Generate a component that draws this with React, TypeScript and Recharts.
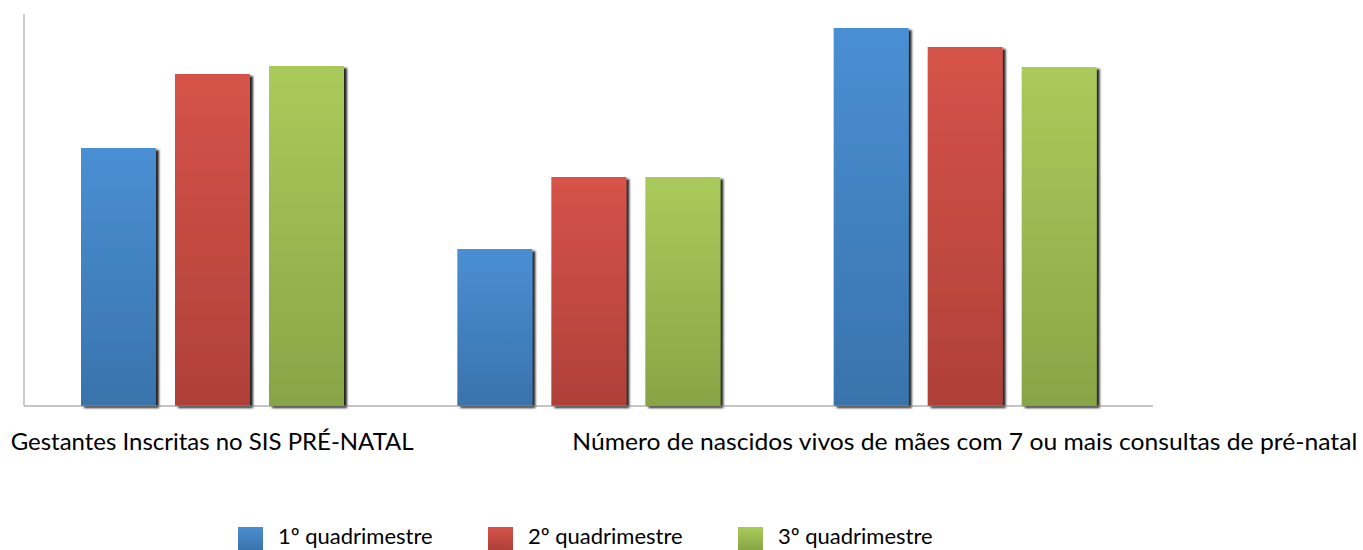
import React from "react";
import { BarChart, Bar, XAxis, YAxis } from "recharts";

const categories = [
  "Gestantes Inscritas no SIS PRÉ-NATAL",
  "",
  "Número de nascidos vivos de mães com 7 ou mais consultas de pré-natal",
];
const q1 = [258, 157, 378];
const q2 = [332, 229, 359];
const q3 = [340, 229, 339];
const seriesNames = ["1º quadrimestre", "2º quadrimestre", "3º quadrimestre"];
const labelWidths = [403, 0, 785];

const data = categories.map((c, i) => ({ name: c, q1: q1[i], q2: q2[i], q3: q3[i] }));

const gradients = [
  { id: "gBlue", top: "#4A8FD3", bottom: "#3973AC" },
  { id: "gRed", top: "#D6534A", bottom: "#AE4038" },
  { id: "gGreen", top: "#AACB5B", bottom: "#88A545" },
];

const BarShape = (props: any) => {
  const { x, y, width, height, fill } = props;
  if (!height || height <= 0) return null;
  return <rect x={x} y={y} width={width} height={height} fill={fill} filter="url(#shadow)" />;
};

const Tick = (props: any) => {
  const { x, y, payload, index } = props;
  const label = payload.value as string;
  if (!label) return null;
  const w = labelWidths[index] || undefined;
  return (
    <text
      x={x}
      y={y + 36}
      textAnchor="middle"
      fontFamily="Lato, 'Open Sans', sans-serif"
      fontSize={24}
      fill="#000"
      textLength={w}
      lengthAdjust="spacingAndGlyphs"
    >
      {label}
    </text>
  );
};

export default function App() {
  return (
    <div style={{ position: "absolute", left: 0, top: 0, width: 1363, height: 550, background: "#fff", overflow: "hidden" }}>
      <BarChart
        width={1363}
        height={550}
        data={data}
        margin={{ top: 14, right: 210, left: 23, bottom: 114 }}
        barSize={75}
        barGap={19}
      >
        <defs>
          {gradients.map((g) => (
            <linearGradient key={g.id} id={g.id} x1="0" y1="0" x2="0" y2="1">
              <stop offset="0%" stopColor={g.top} />
              <stop offset="100%" stopColor={g.bottom} />
            </linearGradient>
          ))}
          <filter id="shadow" x="-10%" y="-10%" width="130%" height="130%">
            <feDropShadow dx="3" dy="2" stdDeviation="1.3" floodColor="#000" floodOpacity="0.85" />
          </filter>
        </defs>
        <XAxis
          dataKey="name"
          height={30}
          interval={0}
          tickLine={false}
          axisLine={{ stroke: "#8C8C8C", strokeWidth: 1 }}
          tick={<Tick />}
        />
        <YAxis
          width={1}
          domain={[0, 392]}
          tick={false}
          tickLine={false}
          axisLine={{ stroke: "#BDBDBD", strokeWidth: 1.5 }}
        />
        <Bar dataKey="q1" name={seriesNames[0]} fill="url(#gBlue)" shape={<BarShape />} isAnimationActive={false} />
        <Bar dataKey="q2" name={seriesNames[1]} fill="url(#gRed)" shape={<BarShape />} isAnimationActive={false} />
        <Bar dataKey="q3" name={seriesNames[2]} fill="url(#gGreen)" shape={<BarShape />} isAnimationActive={false} />
      </BarChart>
      <div
        style={{
          position: "absolute",
          left: 238,
          top: 527,
          display: "flex",
          alignItems: "flex-start",
          fontFamily: "Lato, 'Open Sans', sans-serif",
          fontSize: 22,
          lineHeight: "22px",
          color: "#000",
        }}
      >
        {seriesNames.map((n, i) => (
          <div key={n} style={{ display: "flex", alignItems: "flex-start", width: 250 }}>
            <div
              style={{
                width: 25,
                height: 23,
                background: `linear-gradient(${gradients[i].top}, ${gradients[i].bottom})`,
                marginRight: 15,
              }}
            />
            <span style={{ display: "inline-block", marginTop: -2 }}>{n}</span>
          </div>
        ))}
      </div>
    </div>
  );
}
